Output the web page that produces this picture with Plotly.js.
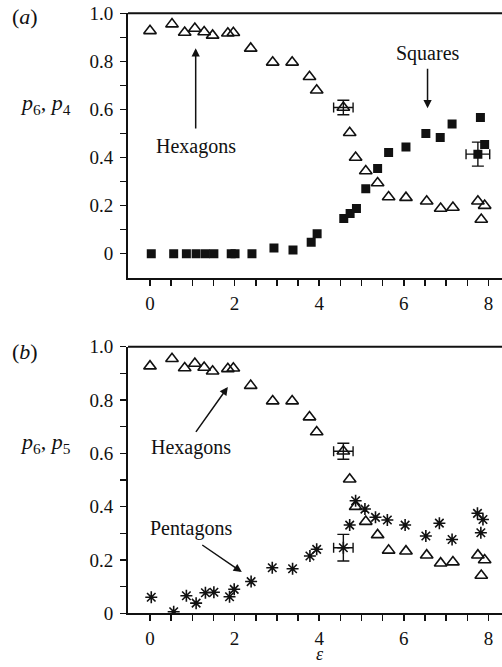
<!DOCTYPE html>
<html>
<head>
<meta charset="utf-8">
<script src="https://cdn.plot.ly/plotly-3.0.1.min.js"></script>
<style>
  html, body { margin: 0; padding: 0; background: #fff; }
  #chart { width: 502px; height: 667px; }
</style>
</head>
<body>
<div id="chart"></div>
<script>
// Fraction of hexagonal cells p6 versus epsilon (shared by both panels)
const epsHex = [0.0, 0.52, 0.82, 1.06, 1.28, 1.48, 1.84, 1.97, 2.38, 2.9, 3.36, 3.77, 3.94,
                4.72, 4.86, 5.1, 5.38, 5.64, 6.05, 6.54, 6.87, 7.16, 7.75, 7.91, 7.83];
const p6 = [0.927, 0.955, 0.92, 0.937, 0.922, 0.908, 0.917, 0.919, 0.854, 0.796, 0.796, 0.736, 0.68,
            0.503, 0.40, 0.344, 0.294, 0.236, 0.233, 0.218, 0.188, 0.192, 0.218, 0.2, 0.142];
// Hexagon point with error bars
const epsHexErr = [4.57];
const p6Err = [0.608];
const p6ErrX = [0.23];
const p6ErrY = [0.03];

// Fraction of square cells p4 (panel a)
const epsSq = [0.03, 0.56, 0.86, 1.09, 1.31, 1.51, 1.92, 2.01, 2.41, 2.93, 3.38, 3.81, 3.95,
               4.58, 4.73, 4.88, 5.1, 5.38, 5.64, 6.05, 6.52, 6.86, 7.14, 7.81, 7.91];
const p4 = [0, 0, 0, 0, 0, 0, 0, 0, 0, 0.024, 0.015, 0.047, 0.083,
            0.146, 0.167, 0.188, 0.27, 0.354, 0.421, 0.444, 0.5, 0.483, 0.539, 0.567, 0.454];
const epsSqErr = [7.75];
const p4Err = [0.414];
const p4ErrX = [0.28];
const p4ErrY = [0.05];

// Fraction of pentagonal cells p5 (panel b)
const epsPent = [0.03, 0.56, 0.86, 1.09, 1.31, 1.51, 1.88, 1.99, 2.39, 2.89, 3.37, 3.78, 3.94,
                 4.72, 4.86, 5.08, 5.33, 5.61, 6.03, 6.52, 6.84, 7.14, 7.74, 7.87, 7.82];
const p5 = [0.06, 0.006, 0.066, 0.038, 0.077, 0.079, 0.062, 0.09, 0.119, 0.171, 0.167, 0.215, 0.24,
            0.331, 0.422, 0.391, 0.36, 0.35, 0.331, 0.29, 0.338, 0.277, 0.375, 0.352, 0.302];
const epsPentErr = [4.57];
const p5Err = [0.246];
const p5ErrX = [0.23];
const p5ErrY = [0.05];

// Axis ticks
const xTickVals = [0, 0.5, 1, 1.5, 2, 2.5, 3, 3.5, 4, 4.5, 5, 5.5, 6, 6.5, 7, 7.5, 8];
const xTickText = ['0', '', '', '', '2', '', '', '', '4', '', '', '', '6', '', '', '', '8'];
const yTickVals = [0, 0.1, 0.2, 0.3, 0.4, 0.5, 0.6, 0.7, 0.8, 0.9, 1.0];
const yTickText = ['0', '', '0.2', '', '0.4', '', '0.6', '', '0.8', '', '1.0'];

const FONT = '"Liberation Serif", "Times New Roman", serif';
const BLACK = '#111';

const triMarker = { symbol: 'triangle-up-open', size: 11, color: BLACK, line: { color: BLACK, width: 1.6 } };
const sqMarker = { symbol: 'square', size: 9, color: BLACK, line: { width: 0 } };
const astMarker = { symbol: 'asterisk-open', size: 10, color: BLACK, line: { color: BLACK, width: 1.6 } };

function errBar(vals, w) { return { type: 'data', array: vals, color: BLACK, thickness: 1.4, width: w }; }

const traces = [
  // panel (a)
  { x: epsHex, y: p6, mode: 'markers', marker: triMarker, xaxis: 'x', yaxis: 'y', name: 'p6' },
  { x: epsHexErr, y: p6Err, mode: 'markers', marker: triMarker, xaxis: 'x', yaxis: 'y',
    error_x: errBar(p6ErrX, 5), error_y: errBar(p6ErrY, 6), name: 'p6 err' },
  { x: epsSq, y: p4, mode: 'markers', marker: sqMarker, xaxis: 'x', yaxis: 'y', name: 'p4' },
  { x: epsSqErr, y: p4Err, mode: 'markers', marker: sqMarker, xaxis: 'x', yaxis: 'y',
    error_x: errBar(p4ErrX, 5), error_y: errBar(p4ErrY, 6), name: 'p4 err' },
  // panel (b)
  { x: epsHex, y: p6, mode: 'markers', marker: triMarker, xaxis: 'x2', yaxis: 'y2', name: 'p6 b' },
  { x: epsHexErr, y: p6Err, mode: 'markers', marker: triMarker, xaxis: 'x2', yaxis: 'y2',
    error_x: errBar(p6ErrX, 5), error_y: errBar(p6ErrY, 6), name: 'p6 b err' },
  { x: epsPent, y: p5, mode: 'markers', marker: astMarker, xaxis: 'x2', yaxis: 'y2', name: 'p5' },
  { x: epsPentErr, y: p5Err, mode: 'markers', marker: astMarker, xaxis: 'x2', yaxis: 'y2',
    error_x: errBar(p5ErrX, 5), error_y: errBar(p5ErrY, 6), name: 'p5 err' }
];

const tickFont = { family: FONT, size: 19, color: BLACK };

function xAxis(anchor) {
  return {
    anchor: anchor, domain: [128 / 502, 1], range: [-0.52, 8.32],
    showline: true, linewidth: 2, linecolor: BLACK, mirror: false,
    ticks: 'outside', ticklen: 6, tickwidth: 1.5, tickcolor: BLACK,
    tickvals: xTickVals, ticktext: xTickText, tickfont: tickFont,
    ticklabelstandoff: 1,
    showgrid: false, zeroline: false, fixedrange: true
  };
}
function yAxis(anchor, domain, range) {
  return {
    anchor: anchor, domain: domain, range: range,
    showline: true, linewidth: 2, linecolor: BLACK,
    ticks: 'outside', ticklen: 6, tickwidth: 1.5, tickcolor: BLACK,
    tickvals: yTickVals, ticktext: yTickText, tickfont: tickFont,
    ticklabelstandoff: 3,
    showgrid: false, zeroline: false, fixedrange: true
  };
}

const annFont = { family: FONT, size: 20, color: BLACK };
const sideFont = { family: FONT, size: 22, color: BLACK };
const arrow = { showarrow: true, arrowhead: 2, arrowsize: 1.1, arrowwidth: 1.5, arrowcolor: BLACK, standoff: 0, startstandoff: 0 };

function label(text, px, py, font) {
  return { text: text, xref: 'paper', yref: 'paper', x: px / 502, y: 1 - py / 667,
           xanchor: 'center', yanchor: 'middle', showarrow: false, font: font || annFont };
}
function note(text, xr, yr, x, y) {
  return { text: text, xref: xr, yref: yr, x: x, y: y, xanchor: 'center', yanchor: 'middle',
           showarrow: false, font: annFont };
}
function pointer(xr, yr, x, y, ax, ay) {
  return Object.assign({ text: '', xref: xr, yref: yr, axref: xr, ayref: yr, x: x, y: y, ax: ax, ay: ay }, arrow);
}

const annotations = [
  // panel labels
  label('(<i>a</i>)', 25, 17, sideFont),
  label('(<i>b</i>)', 25, 351, sideFont),
  label('<i>p</i><sub>6</sub>, <i>p</i><sub>4</sub>', 45, 104, sideFont),
  label('<i>p</i><sub>6</sub>, <i>p</i><sub>5</sub>', 45, 443, sideFont),
  // x-axis title under the lower panel
  { text: '<i>ε</i>', xref: 'paper', yref: 'paper', x: 320 / 502, y: 0.002,
    xanchor: 'center', yanchor: 'bottom', showarrow: false,
    font: { family: FONT, size: 18, color: BLACK } },

  // panel (a) callouts
  note('Hexagons', 'x', 'y', 1.08, 0.444),
  pointer('x', 'y', 1.08, 0.855, 1.08, 0.514),
  note('Squares', 'x', 'y', 6.58, 0.833),
  pointer('x', 'y', 6.56, 0.605, 6.56, 0.776),

  // panel (b) callouts
  note('Hexagons', 'x2', 'y2', 0.97, 0.622),
  pointer('x2', 'y2', 1.84, 0.849, 1.06, 0.675),
  note('Pentagons', 'x2', 'y2', 0.97, 0.319),
  pointer('x2', 'y2', 2.17, 0.155, 1.2, 0.26)
];

// top frame lines of each panel
const shapes = [
  { type: 'line', xref: 'x domain', yref: 'y domain', x0: 0, x1: 1, y0: 1, y1: 1, line: { color: BLACK, width: 2 } },
  { type: 'line', xref: 'x2 domain', yref: 'y2 domain', x0: 0, x1: 1, y0: 1, y1: 1, line: { color: BLACK, width: 2 } }
];

const layout = {
  width: 502, height: 667,
  margin: { l: 0, r: 0, t: 0, b: 0 },
  paper_bgcolor: '#fff', plot_bgcolor: '#fff',
  showlegend: false,
  font: { family: FONT, color: BLACK },
  xaxis: xAxis('y'),
  yaxis: yAxis('x', [1 - 277.7 / 667, 1 - 13.3 / 667], [-0.1, 1.0]),
  xaxis2: xAxis('y2'),
  yaxis2: yAxis('x2', [1 - 613.3 / 667, 1 - 346.7 / 667], [0, 1.0]),
  annotations: annotations,
  shapes: shapes
};

Plotly.newPlot('chart', traces, layout, { displayModeBar: false, staticPlot: true });
</script>
</body>
</html>
